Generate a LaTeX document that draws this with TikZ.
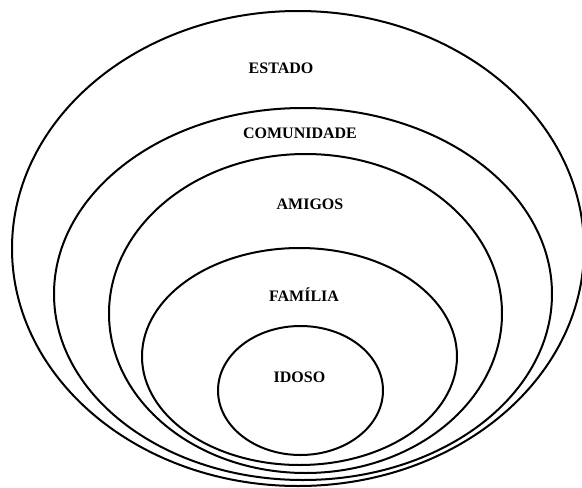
\documentclass[tikz,border=0pt]{standalone}
\usepackage{fontspec}
\setmainfont{Liberation Serif}
\usetikzlibrary{shapes.geometric}

\begin{document}
\begin{tikzpicture}[
  x=1pt, y=-1pt,
  % Styles
  ring/.style={ellipse, draw, line width=2pt, inner sep=0pt},
  lbl/.style={font=\fontsize{16}{18}\selectfont\bfseries},
]
  \useasboundingbox (0,0) rectangle (582,488);

  % Nested circles
  \node[ring, minimum width=572pt, minimum height=475pt] (estado) at (298,248.5) {};
  \node[ring, minimum width=498pt, minimum height=372pt] (comunidade) at (303,294) {};
  \node[ring, minimum width=393pt, minimum height=319pt] (amigos) at (305.5,313.5) {};
  \node[ring, minimum width=315pt, minimum height=217pt] (familia) at (299.5,356.5) {};
  \node[ring, minimum width=165pt, minimum height=129pt] (idoso) at (300.5,390.5) {};

  % Labels
  \node[lbl] (tEstado) at (281,68) {ESTADO};
  \node[lbl] (tComunidade) at (300,133) {COMUNIDADE};
  \node[lbl] (tAmigos) at (310,204) {AMIGOS};
  \node[lbl] (tFamilia) at (304,295) {FAMÍLIA};
  \node[lbl] (tIdoso) at (299.5,377) {IDOSO};

\end{tikzpicture}
\end{document}
